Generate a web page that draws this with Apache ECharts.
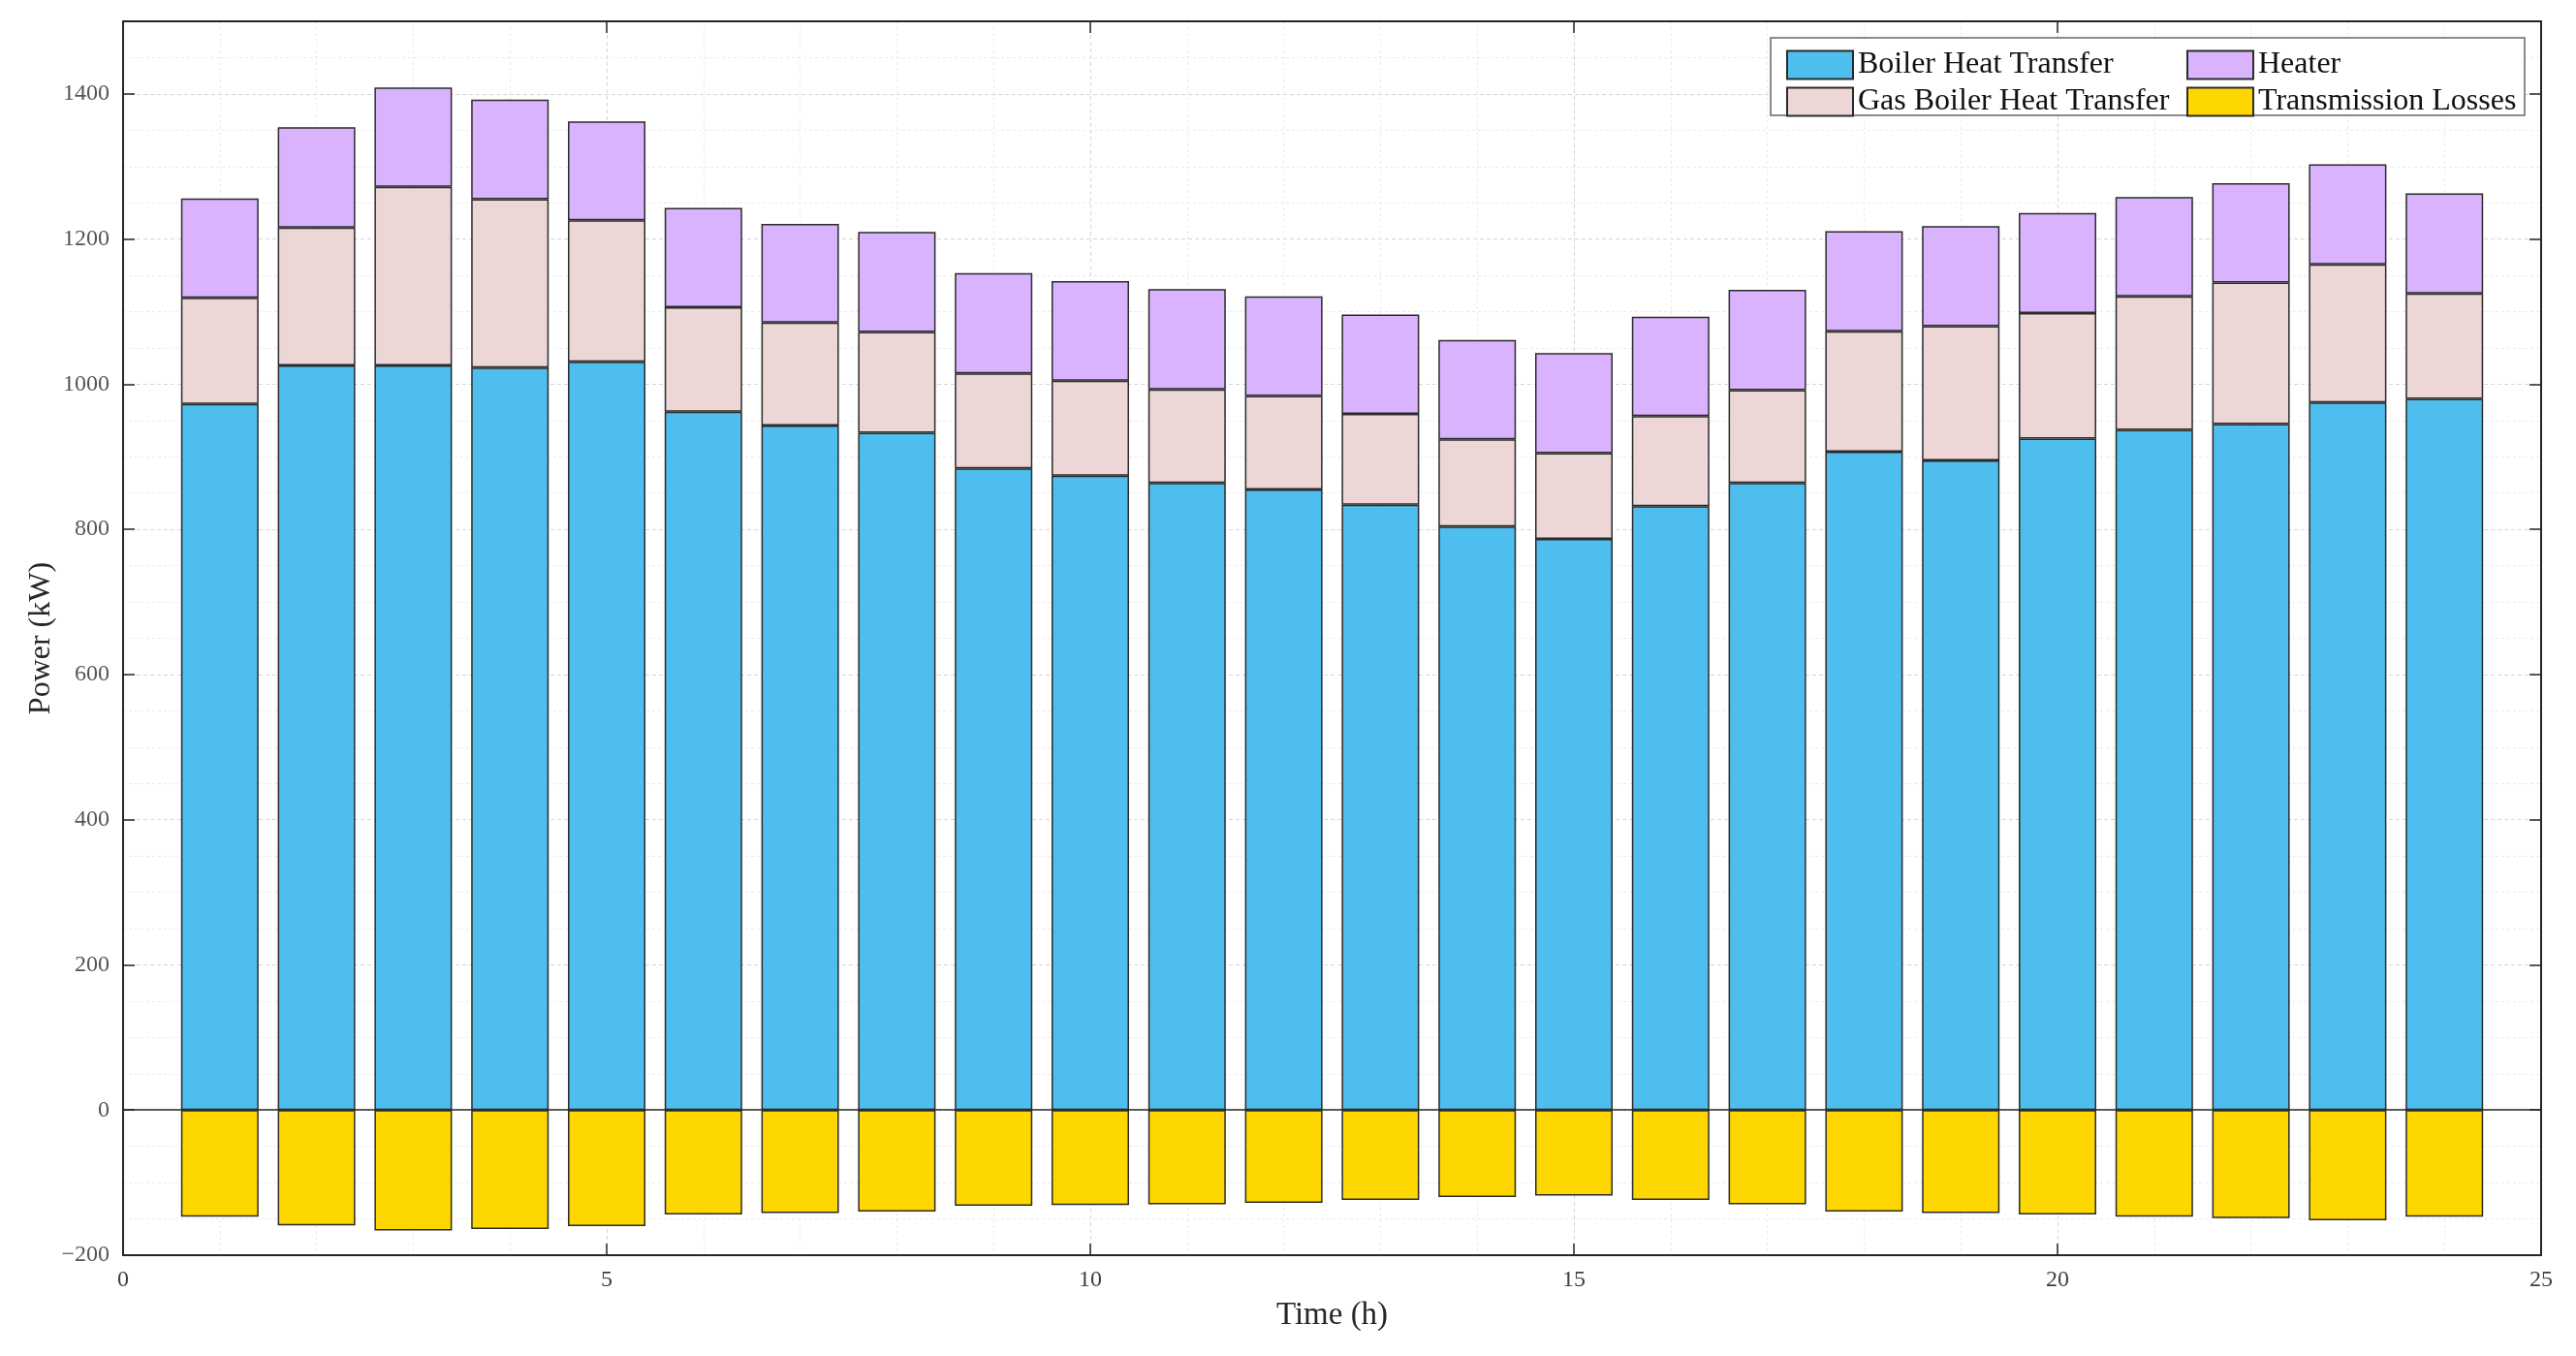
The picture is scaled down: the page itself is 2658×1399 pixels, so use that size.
<!DOCTYPE html>
<html>
<head>
<meta charset="utf-8">
<script src="https://cdn.jsdelivr.net/npm/echarts@6/dist/echarts.min.js"></script>
<style>
html,body{margin:0;padding:0;background:#fff;}
#chart{width:2658px;height:1399px;}
</style>
</head>
<body>
<div id="chart"></div>
<script>
const hours = [1,2,3,4,5,6,7,8,9,10,11,12,13,14,15,16,17,18,19,20,21,22,23,24];
const boilerHeat = [973,1026,1026,1023,1031,962,943,933,884,874,864,855,834,804,787,832,864,907,895,925,937,945,975,980];
const gasBoilerHeat = [146,190,246,232,195,144,142,139,131,131,129,129,125,120,118,124,128,166,185,173,184,195,190,145];
const heater = [137,138,137,137,136,137,136,138,138,137,138,137,137,137,138,137,138,138,138,138,137,137,138,138];
const transmissionLosses = [-147,-159,-166,-164,-160,-144,-142,-140,-132,-131,-130,-128,-124,-120,-118,-124,-130,-140,-142,-144,-147,-149,-152,-147];
const xTicks = [0,5,10,15,20,25];
const yTicks = [-200,0,200,400,600,800,1000,1200,1400];

const FONT = 'Liberation Serif';
const X_MIN = 0, X_MAX = 25;
// category slots 0..25 so that the hidden band axis lines up with the visible value axis
const slots = [];
for (let s = X_MIN; s <= X_MAX; s++) slots.push(String(s));
const toSlots = arr => slots.map(s => {
  const i = hours.indexOf(Number(s));
  return i >= 0 ? arr[i] : null;
});
const edge = {borderColor:'#2b2b2b', borderWidth:1.5};
const tickStyle = {show:true, inside:true, length:12, lineStyle:{color:'#262626', width:1.5}};
const boxLine = {show:true, onZero:false, lineStyle:{color:'#262626', width:2}};

function barSeries(name, arr, color, extra){
  return Object.assign({
    name: name, type:'bar', stack:'total', data: toSlots(arr), barWidth: 80,
    xAxisIndex: 2, yAxisIndex: 0,
    itemStyle: Object.assign({color: color}, edge),
    emphasis:{disabled:true}
  }, extra||{});
}

const chart = echarts.init(document.getElementById('chart'));
chart.setOption({
  animation:false,
  backgroundColor:'#fff',
  grid:{left:127, right:36, top:22, bottom:104, show:false},
  xAxis:[{
    type:'value', min:X_MIN, max:X_MAX, interval:5, position:'bottom',
    name:'Time (h)', nameLocation:'middle', nameGap:46,
    nameTextStyle:{fontFamily:FONT, fontSize:33, color:'#262626'},
    axisLine:boxLine,
    axisTick:tickStyle,
    axisLabel:{fontFamily:FONT, fontSize:24, color:'#404040', margin:14,
      formatter: v => (xTicks.indexOf(v) >= 0 ? String(v) : '')},
    splitLine:{show:true, lineStyle:{color:'#d6d6d6', type:[4,3], width:1}},
    minorTick:{show:false, splitNumber:5},
    minorSplitLine:{show:true, lineStyle:{color:'#ebebeb', type:[3,3], width:1}}
  },{
    type:'value', min:X_MIN, max:X_MAX, interval:5, position:'top',
    axisLine:boxLine, axisLabel:{show:false}, splitLine:{show:false},
    axisTick:tickStyle
  },{
    type:'category', data:slots, boundaryGap:false, position:'bottom', show:false
  }],
  yAxis:[{
    type:'value', min:-200, max:1500, interval:200, position:'left',
    name:'Power (kW)', nameLocation:'middle', nameGap:68, nameRotate:90, nameMoveOverlap:false,
    nameTextStyle:{fontFamily:FONT, fontSize:32, color:'#262626'},
    axisLine:boxLine,
    axisTick:tickStyle,
    axisLabel:{fontFamily:FONT, fontSize:24, color:'#555', margin:14,
      formatter: v => (yTicks.indexOf(v) >= 0 ? String(v).replace('-', '\u2212') : '')},
    splitLine:{show:true, lineStyle:{color:'#d6d6d6', type:[4,3], width:1}},
    minorTick:{show:false, splitNumber:4},
    minorSplitLine:{show:true, lineStyle:{color:'#ebebeb', type:[3,3], width:1}}
  },{
    type:'value', min:-200, max:1500, interval:200, position:'right',
    axisLine:boxLine, axisLabel:{show:false}, splitLine:{show:false},
    axisTick:tickStyle
  }],
  graphic:[{
    type:'rect', z:5, shape:{x:1827, y:39, width:778, height:80},
    style:{fill:'#fff', stroke:'#666', lineWidth:1.5}
  }],
  legend:[{
    z:10, orient:'vertical', left:1838, top:46, itemWidth:68, itemHeight:29, itemGap:6,
    data:['Boiler Heat Transfer','Gas Boiler Heat Transfer'],
    textStyle:{fontFamily:FONT, fontSize:32, color:'#111'}, selectedMode:false, icon:'rect'
  },{
    z:10, orient:'vertical', left:2251, top:46, itemWidth:68, itemHeight:29, itemGap:6,
    data:['Heater','Transmission Losses'],
    textStyle:{fontFamily:FONT, fontSize:32, color:'#111'}, selectedMode:false, icon:'rect'
  }],
  series:[
    barSeries('Boiler Heat Transfer', boilerHeat, '#4DBEEE', {
      markLine:{silent:true, symbol:'none', label:{show:false},
        lineStyle:{color:'#262626', width:1.5, type:'solid'}, data:[{yAxis:0}]}
    }),
    barSeries('Gas Boiler Heat Transfer', gasBoilerHeat, '#ECD6D6'),
    barSeries('Heater', heater, '#DAB3FF'),
    barSeries('Transmission Losses', transmissionLosses, '#FFD700')
  ]
});
</script>
</body>
</html>
